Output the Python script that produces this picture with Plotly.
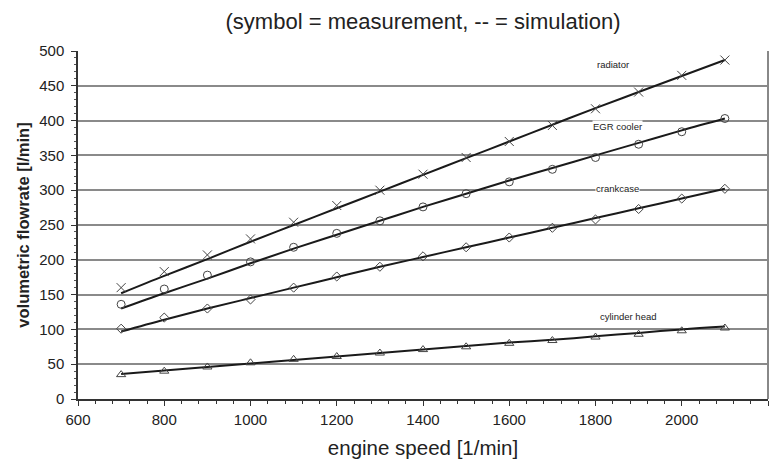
import plotly.graph_objects as go

speed = [700, 800, 900, 1000, 1100, 1200, 1300, 1400, 1500, 1600, 1700, 1800, 1900, 2000, 2100]

radiator_meas = [160, 183, 207, 230, 254, 278, 300, 323, 347, 370, 393, 417, 441, 465, 487]
radiator_sim = [152, 177, 201, 226, 250, 274, 298, 322, 346, 370, 394, 418, 441, 464, 487]

egr_meas = [136, 158, 178, 197, 218, 238, 256, 276, 295, 312, 330, 347, 366, 384, 403]
egr_sim = [130, 152, 173, 195, 216, 236, 256, 276, 295, 314, 332, 350, 368, 386, 403]

crank_meas = [101, 117, 130, 143, 160, 176, 190, 205, 218, 232, 246, 258, 273, 288, 302]
crank_sim = [97, 114, 130, 145, 160, 175, 190, 204, 218, 232, 246, 260, 274, 288, 302]

head_meas = [35, 40, 46, 52, 57, 61, 66, 71, 75, 80, 84, 89, 93, 98, 102]
head_sim = [36, 41, 46, 51, 56, 61, 66, 71, 76, 81, 85, 90, 95, 100, 104]

labels = ["radiator", "EGR cooler", "crankcase", "cylinder head"]
label_x = [1841, 1852, 1850, 1876]
label_y = [480, 392, 302, 118]

series = [
    (radiator_meas, radiator_sim, "x-thin-open", 9),
    (egr_meas, egr_sim, "circle-open", 8),
    (crank_meas, crank_sim, "diamond-open", 7),
    (head_meas, head_sim, "triangle-up-open", 8),
]

fig = go.Figure()
for meas, sim, sym, sz in series:
    fig.add_trace(go.Scatter(x=speed, y=sim, mode="lines",
                             line=dict(color="#1a1a1a", width=2, shape="spline"),
                             showlegend=False, hoverinfo="skip"))
    fig.add_trace(go.Scatter(x=speed, y=meas, mode="markers",
                             marker=dict(symbol=sym, size=sz, color="#444",
                                         line=dict(color="#444", width=1)),
                             showlegend=False))

for t, xx, yy in zip(labels, label_x, label_y):
    fig.add_annotation(x=xx, y=yy, text=t, showarrow=False,
                       font=dict(size=9.5, color="#222", family="Liberation Sans, Arial"),
                       bgcolor="white", borderpad=0)

fig.add_shape(type="line", xref="paper", yref="paper", x0=1, x1=1, y0=0, y1=1,
              line=dict(color="#888", width=2))

# page body has an 8px default margin, so the figure is sized to fit inside it
fig.update_layout(
    width=776, height=452,
    margin=dict(l=70, r=16, t=43, b=61, autoexpand=False),
    paper_bgcolor="white", plot_bgcolor="white",
    font=dict(family="Liberation Sans, Arial", color="#222"),
    title=dict(text="(symbol = measurement, -- = simulation)", x=0.5, xanchor="center",
               xref="paper", y=0.971, yanchor="middle", font=dict(size=22, color="#222")),
    xaxis=dict(range=[600, 2200], dtick=200, tick0=600, showgrid=False, automargin=False,
               showline=True, linecolor="#333", linewidth=1.5,
               ticks="outside", ticklen=5, tickcolor="#333", ticklabelstandoff=1,
               minor=dict(dtick=40, ticks="outside", ticklen=3, tickcolor="#333"),
               tickfont=dict(size=15),
               title=dict(text="engine speed [1/min]", font=dict(size=20.5), standoff=14),
               zeroline=False),
    yaxis=dict(range=[0, 500], dtick=50, showgrid=True, gridcolor="#8a8a8a", gridwidth=2,
               automargin=False,
               showline=True, linecolor="#333", linewidth=1.5,
               ticks="outside", ticklen=5, tickcolor="#333", ticklabelstandoff=4,
               minor=dict(dtick=10, ticks="outside", ticklen=2, tickcolor="#555"),
               tickfont=dict(size=15),
               title=dict(text="<b>volumetric flowrate [l/min]</b>", font=dict(size=16.5), standoff=5),
               zeroline=False),
)

fig.write_html("out.html")
